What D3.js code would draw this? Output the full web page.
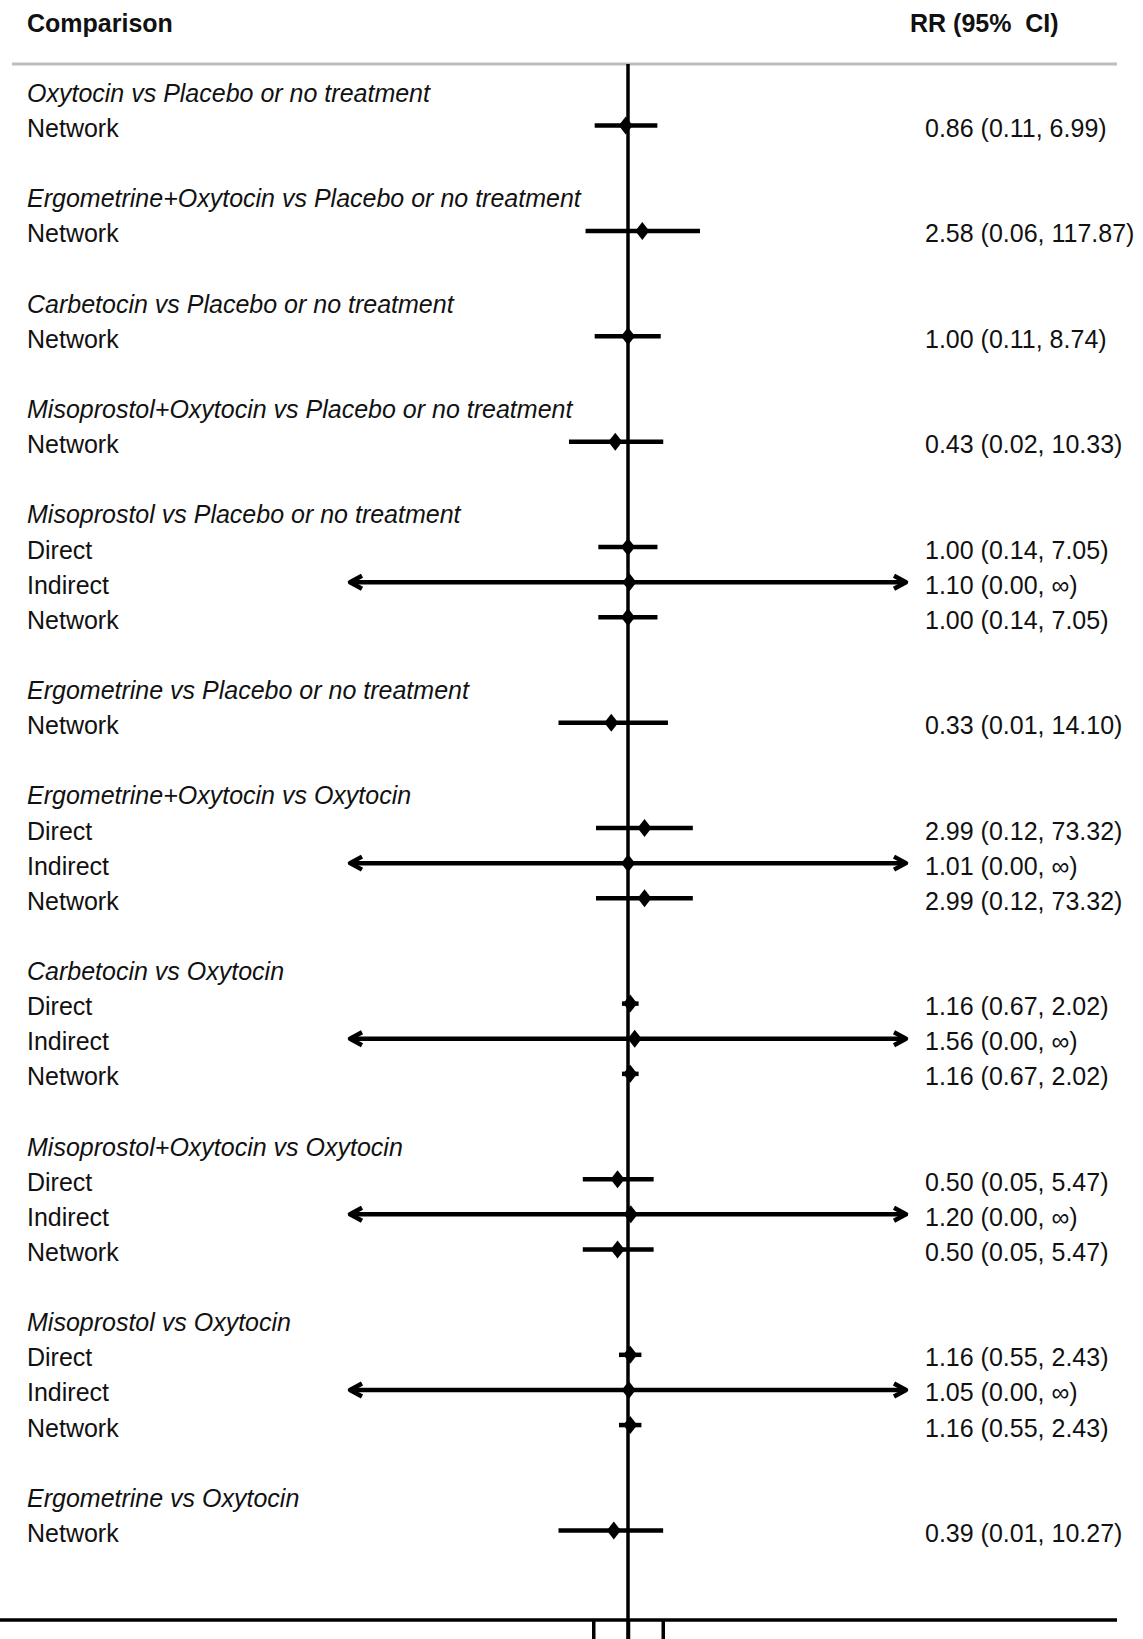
<!DOCTYPE html>
<html>
<head>
<meta charset="utf-8">
<script src="https://cdn.jsdelivr.net/npm/d3@7"></script>
<style>
  html, body { margin: 0; padding: 0; background: #fff; }
  svg { display: block; }
  text { font-family: "Liberation Sans", Arial, sans-serif; fill: #111; }
</style>
</head>
<body>
<script>
// ---- data ----
const comparisons = [
  "Oxytocin vs Placebo or no treatment",
  "Ergometrine+Oxytocin vs Placebo or no treatment",
  "Carbetocin vs Placebo or no treatment",
  "Misoprostol+Oxytocin vs Placebo or no treatment",
  "Misoprostol vs Placebo or no treatment",
  "Ergometrine vs Placebo or no treatment",
  "Ergometrine+Oxytocin vs Oxytocin",
  "Carbetocin vs Oxytocin",
  "Misoprostol+Oxytocin vs Oxytocin",
  "Misoprostol vs Oxytocin",
  "Ergometrine vs Oxytocin"
];
const rowComparison = [0,1,2,3,4,4,4,5,6,6,6,7,7,7,8,8,8,9,9,9,10];
const rowSource = ["Network","Network","Network","Network",
  "Direct","Indirect","Network","Network",
  "Direct","Indirect","Network",
  "Direct","Indirect","Network",
  "Direct","Indirect","Network",
  "Direct","Indirect","Network","Network"];
const estimate = [0.86,2.58,1.00,0.43,1.00,1.10,1.00,0.33,2.99,1.01,2.99,1.16,1.56,1.16,0.50,1.20,0.50,1.16,1.05,1.16,0.39];
const lower    = [0.11,0.06,0.11,0.02,0.14,0.00,0.14,0.01,0.12,0.00,0.12,0.67,0.00,0.67,0.05,0.00,0.05,0.55,0.00,0.55,0.01];
const upper    = [6.99,117.87,8.74,10.33,7.05,Infinity,7.05,14.10,73.32,Infinity,73.32,2.02,Infinity,2.02,5.47,Infinity,5.47,2.43,Infinity,2.43,10.27];
const tickValues = [0.1, 1, 10];
const headerLeft = "Comparison";
const headerRight = "RR (95%  CI)";

// ---- layout ----
const W = 1143, H = 1639;
const fontSize = 25;
const rowStep = 35.12, rowTop = 90.5;
const textX = 27, ciTextX = 925;
const xMin = 1e-8, xMax = 1e8;

const svg = d3.select("body").append("svg").attr("width", W).attr("height", H);

const x = d3.scaleLog().domain([xMin, xMax]).range([350, 906]).clamp(true);

// build rows
const labelRows = [];
const markRows = [];
let r = 0;
comparisons.forEach((c, gi) => {
  labelRows.push({ text: c, italic: true, r });
  r++;
  rowComparison.forEach((g, i) => {
    if (g === gi) {
      markRows.push({ i, r, src: rowSource[i], est: estimate[i], lo: lower[i], hi: upper[i] });
      labelRows.push({ text: rowSource[i], italic: false, r });
      r++;
    }
  });
  r++;
});
const y = d3.scaleLinear().domain([0, 1]).range([rowTop, rowTop + rowStep]);

const f2 = d3.format(".2f");
const ciText = d => `${f2(d.est)} (${f2(d.lo)}, ${d.hi === Infinity ? "\u221E" : f2(d.hi)})`;

// header
svg.append("text").attr("x", textX).attr("y", 32)
  .style("font-size", fontSize + "px").style("font-weight", "bold").text(headerLeft);
svg.append("text").attr("x", 910).attr("y", 32)
  .style("font-size", fontSize + "px").style("font-weight", "bold")
  .style("white-space", "pre").text(headerRight);

// grey separator
svg.append("line").attr("x1", 12).attr("x2", 1117).attr("y1", 64).attr("y2", 64)
  .attr("stroke", "#bdbdbd").attr("stroke-width", 3);

// null line at RR = 1
svg.append("line").attr("x1", x(1)).attr("x2", x(1)).attr("y1", 64).attr("y2", H)
  .attr("stroke", "#000").attr("stroke-width", 3.5);

// bottom axis
const axisY = 1620;
svg.append("line").attr("x1", 0).attr("x2", 1117).attr("y1", axisY).attr("y2", axisY)
  .attr("stroke", "#000").attr("stroke-width", 3.5);
const axisG = svg.append("g").attr("transform", `translate(0,${axisY})`)
  .call(d3.axisBottom(x).tickValues(tickValues).tickSize(22).tickFormat(""));
axisG.select(".domain").remove();
axisG.selectAll(".tick line").attr("stroke", "#000").attr("stroke-width", 3.5);

// labels
svg.append("g").selectAll("text").data(labelRows).join("text")
  .attr("x", textX).attr("y", d => y(d.r) + 11.5)
  .style("font-size", fontSize + "px")
  .style("font-style", d => d.italic ? "italic" : "normal")
  .text(d => d.text);

// CI text
svg.append("g").selectAll("text").data(markRows).join("text")
  .attr("x", ciTextX).attr("y", d => y(d.r) + 11.5)
  .style("font-size", fontSize + "px")
  .text(ciText);

// CI lines
const marks = svg.append("g");
marks.selectAll("line.ci").data(markRows).join("line").attr("class", "ci")
  .attr("x1", d => x(Math.max(d.lo, xMin))).attr("x2", d => x(Math.min(d.hi, xMax)))
  .attr("y1", d => y(d.r)).attr("y2", d => y(d.r))
  .attr("stroke", "#000").attr("stroke-width", 4.5);

// arrowheads for clipped intervals
const aL = 12, aH = 6.5;
marks.selectAll("path.arrL").data(markRows.filter(d => d.lo < xMin)).join("path").attr("class", "arrL")
  .attr("d", d => { const tx = x(xMin), ty = y(d.r); return `M${tx + aL},${ty - aH}L${tx},${ty}L${tx + aL},${ty + aH}`; })
  .attr("fill", "none").attr("stroke", "#000").attr("stroke-width", 4.5).attr("stroke-linejoin", "round");
marks.selectAll("path.arrR").data(markRows.filter(d => d.hi > xMax)).join("path").attr("class", "arrR")
  .attr("d", d => { const tx = x(xMax), ty = y(d.r); return `M${tx - aL},${ty - aH}L${tx},${ty}L${tx - aL},${ty + aH}`; })
  .attr("fill", "none").attr("stroke", "#000").attr("stroke-width", 4.5).attr("stroke-linejoin", "round");

// diamonds at point estimates
const dw = 7, dh = 9;
marks.selectAll("path.pt").data(markRows).join("path").attr("class", "pt")
  .attr("d", d => { const cx = x(d.est), cy = y(d.r); return `M${cx - dw},${cy}L${cx},${cy - dh}L${cx + dw},${cy}L${cx},${cy + dh}Z`; })
  .attr("fill", "#000");
</script>
</body>
</html>
